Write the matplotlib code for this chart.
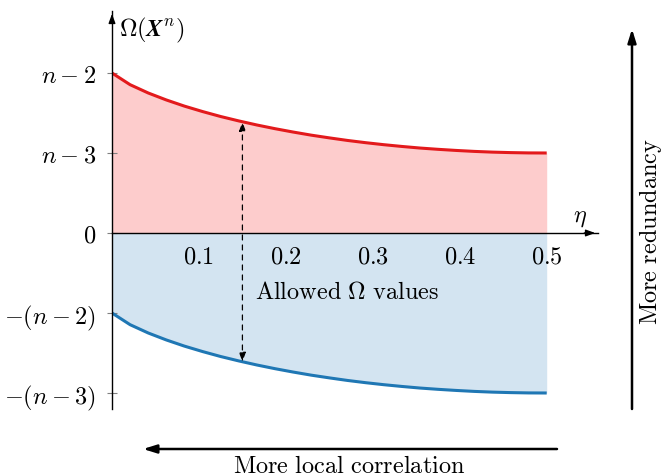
import matplotlib
matplotlib.use("Agg")
import matplotlib.pyplot as plt

plt.rcParams['mathtext.fontset'] = 'cm'
plt.rcParams['font.family'] = 'serif'
plt.rcParams['font.serif'] = ['cmr10', 'DejaVu Serif']
plt.rcParams['axes.unicode_minus'] = False

# data
eta = [0.0, 0.0208, 0.0417, 0.0625, 0.0833, 0.1042, 0.125, 0.1458, 0.1667,
       0.1875, 0.2083, 0.2292, 0.25, 0.2708, 0.2917, 0.3125, 0.3333, 0.3542,
       0.375, 0.3958, 0.4167, 0.4375, 0.4583, 0.4792, 0.5]
upper = [2.0, 1.854, 1.750, 1.663, 1.586, 1.518, 1.456, 1.401, 1.350,
         1.304, 1.262, 1.223, 1.189, 1.157, 1.129, 1.104, 1.082, 1.062,
         1.046, 1.032, 1.020, 1.011, 1.005, 1.001, 1.0]
lower = [-1.0, -1.146, -1.250, -1.337, -1.414, -1.482, -1.544, -1.599, -1.650,
         -1.696, -1.738, -1.777, -1.811, -1.843, -1.871, -1.896, -1.918, -1.938,
         -1.954, -1.968, -1.980, -1.989, -1.995, -1.999, -2.0]
xtick_vals = [0.1, 0.2, 0.3, 0.4, 0.5]
xtick_labels = [r'$0.1$', r'$0.2$', r'$0.3$', r'$0.4$', r'$0.5$']
ytick_vals = [2, 1, 0, -1, -2]
ytick_labels = [r'$n-2$', r'$n-3$', r'$0$', r'$-(n-2)$', r'$-(n-3)$']
arrow_eta = 0.15
arrow_top = 1.39
arrow_bottom = -1.61

RED = '#e31a1c'
RED_FILL = '#fdcccc'
BLUE = '#1f77b4'
BLUE_FILL = '#d3e4f1'
FS = 17.5

fig = plt.figure(figsize=(6.62, 4.77), dpi=100)
ax = fig.add_axes([112/662, 67/477, 486/662, 398/477])
ax.set_xlim(0, 0.559)
ax.set_ylim(-2.2, 2.775)

ax.fill_between(eta, 0, upper, color=RED_FILL, lw=0, zorder=1)
ax.fill_between(eta, lower, 0, color=BLUE_FILL, lw=0, zorder=1)
ax.plot(eta, upper, color=RED, lw=2.2, zorder=3, solid_capstyle='butt')
ax.plot(eta, lower, color=BLUE, lw=2.2, zorder=3, solid_capstyle='butt')

for s in ['top', 'right']:
    ax.spines[s].set_visible(False)
ax.spines['left'].set_position(('data', 0))
ax.spines['bottom'].set_position(('data', 0))
for s in ['left', 'bottom']:
    ax.spines[s].set_linewidth(1.0)
    ax.spines[s].set_zorder(4)

ax.set_xticks(xtick_vals)
ax.set_xticklabels(xtick_labels, fontsize=FS)
ax.set_yticks(ytick_vals)
ax.set_yticklabels(ytick_labels, fontsize=FS)
ax.tick_params(axis='y', direction='inout', length=7, width=0.8, color='#808080', pad=8)
ax.tick_params(axis='x', direction='inout', length=0, width=0.8, pad=9)

# axis arrow heads
ax.annotate('', xy=(0.559, 0), xytext=(0.54, 0),
            arrowprops=dict(arrowstyle='-|>,head_length=0.55,head_width=0.2', color='black', lw=1.0),
            annotation_clip=False, zorder=5)
ax.annotate('', xy=(0, 2.775), xytext=(0, 2.6),
            arrowprops=dict(arrowstyle='-|>,head_length=0.55,head_width=0.2', color='black', lw=1.0),
            annotation_clip=False, zorder=5)

ax.text(0.008, 2.55, r'$\Omega(\mathbfit{X}^n)$', fontsize=FS, ha='left', va='center')
ax.text(0.538, 0.2, r'$\eta$', fontsize=FS, ha='center', va='center')

# allowed values arrow
ax.annotate('', xy=(arrow_eta, arrow_top), xytext=(arrow_eta, arrow_bottom),
            arrowprops=dict(arrowstyle='<|-|>,head_length=0.55,head_width=0.2', color='black',
                            lw=0.9, linestyle=(0, (4, 4)), shrinkA=0, shrinkB=0), zorder=5)
ax.text(0.164, -0.74, r'$\mathrm{Allowed}\ \Omega\ \mathrm{values}$', fontsize=FS,
        ha='left', va='center')

# outer arrows
ax.annotate('', xy=(632/662, 1 - 30/477), xytext=(632/662, 1 - 410/477),
            xycoords='figure fraction', textcoords='figure fraction',
            arrowprops=dict(arrowstyle='-|>,head_length=0.8,head_width=0.25', color='black', lw=1.8,
                            shrinkA=0, shrinkB=0), annotation_clip=False)
fig.text(650/662, 1 - 232/477, r'$\mathrm{More\ redundancy}$', fontsize=FS, rotation=90,
         ha='center', va='center')
ax.annotate('', xy=(143/662, 1 - 450/477), xytext=(557/662, 1 - 450/477),
            xycoords='figure fraction', textcoords='figure fraction',
            arrowprops=dict(arrowstyle='-|>,head_length=0.8,head_width=0.25', color='black', lw=1.8,
                            shrinkA=0, shrinkB=0), annotation_clip=False)
fig.text(349/662, 1 - 467/477, r'$\mathrm{More\ local\ correlation}$', fontsize=FS,
         ha='center', va='center')

fig.savefig('out.png', dpi=100)
